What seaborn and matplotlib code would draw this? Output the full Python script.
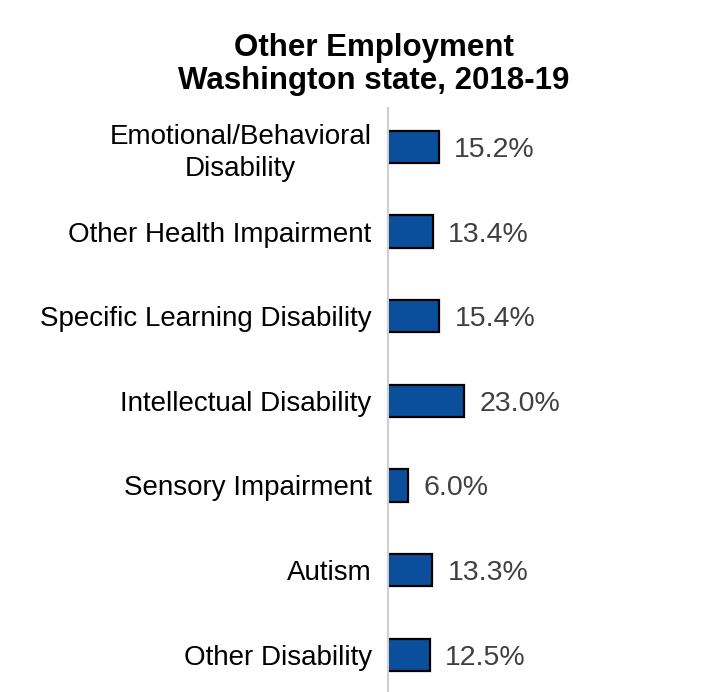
import matplotlib
matplotlib.use("Agg")
import matplotlib.pyplot as plt
import seaborn as sns
import pandas as pd

categories = [
    "Emotional/Behavioral\nDisability",
    "Other Health Impairment",
    "Specific Learning Disability",
    "Intellectual Disability",
    "Sensory Impairment",
    "Autism",
    "Other Disability",
]
values = [15.2, 13.4, 15.4, 23.0, 6.0, 13.3, 12.5]
title_lines = ["Other Employment", "Washington state, 2018-19"]

sns.set_theme(style="white")
plt.rcParams["font.family"] = ["Liberation Sans", "DejaVu Sans"]

df = pd.DataFrame({"category": categories, "pct": values})

fig = plt.figure(figsize=(7.1, 6.92), dpi=100)
ax = fig.add_axes([0.547, 0.0, 0.453, 0.844])

sns.barplot(data=df, x="pct", y="category", orient="h", color="#0B4F9C",
            saturation=1, width=0.38, edgecolor="black", linewidth=1.6, ax=ax)

ax.set_xlim(0, 97.4)
ax.set_ylim(6.44, -0.46)
ax.set_xlabel("")
ax.set_ylabel("")
ax.set_xticks([])
for side in ["top", "right", "bottom"]:
    ax.spines[side].set_visible(False)
ax.spines["left"].set_color("#D0D0D0")
ax.spines["left"].set_linewidth(1.5)
ax.tick_params(axis="y", length=0, pad=12, labelsize=20, labelcolor="black")
for lbl in ax.get_yticklabels():
    lbl.set_multialignment("center")
    lbl.set_linespacing(1.3)

for cont in ax.containers:
    texts = ax.bar_label(cont, labels=[f"{v:.1f}%" for v in cont.datavalues],
                         padding=11, fontsize=20.5, color="#404040")
    for t in texts:
        t.set_verticalalignment("center_baseline")

fig.text(0.526, 0.930, title_lines[0], ha="center", va="center",
         fontsize=22.5, fontweight="bold", color="black")
fig.text(0.526, 0.883, title_lines[1], ha="center", va="center",
         fontsize=22.5, fontweight="bold", color="black")

fig.savefig("out.png", dpi=100, facecolor="white")
